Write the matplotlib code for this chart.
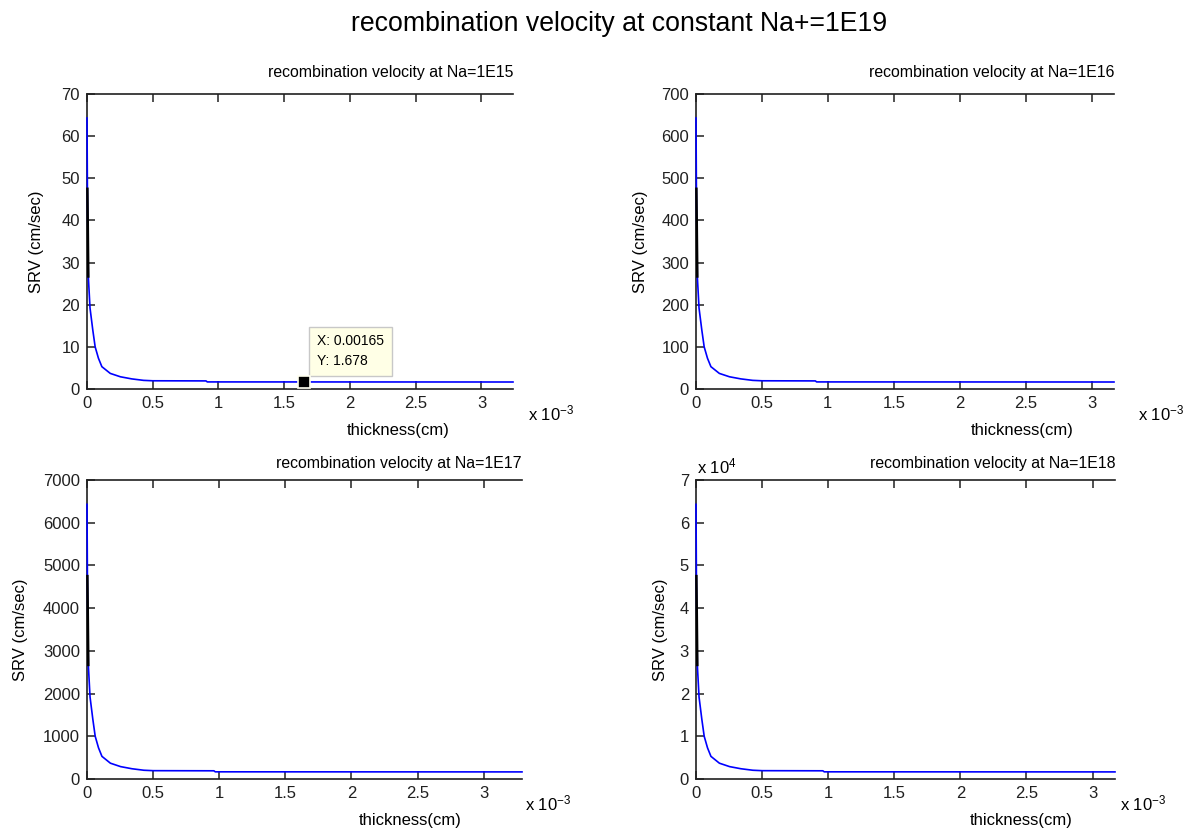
import matplotlib

matplotlib.use("Agg")
import matplotlib.pyplot as plt
from matplotlib.ticker import FuncFormatter, MultipleLocator

plt.rcParams["font.family"] = ["Liberation Sans", "DejaVu Sans"]
plt.rcParams["mathtext.fontset"] = "custom"
plt.rcParams["mathtext.rm"] = "Liberation Sans"
plt.rcParams["mathtext.it"] = "Liberation Sans"

W, H = 1193, 833
LINE_BLUE = "#0000ff"

# thickness (cm) and surface recombination velocity (cm/sec), one pair per Na
thickness_e15 = [0, 0.003e-3, 0.010e-3, 0.023e-3, 0.044e-3, 0.062e-3, 0.087e-3, 0.113e-3,
                 0.177e-3, 0.254e-3, 0.34e-3, 0.43e-3, 0.50e-3, 0.905e-3, 0.915e-3, 3.24e-3]
srv_e15 = [64.3, 47.5, 26.7, 19.2, 14.0, 10.0, 7.3, 5.3, 3.7, 2.9, 2.4, 2.05, 1.95, 1.92, 1.68, 1.66]

thickness_e16 = [0, 0.003e-3, 0.010e-3, 0.023e-3, 0.044e-3, 0.062e-3, 0.087e-3, 0.113e-3,
                 0.177e-3, 0.254e-3, 0.34e-3, 0.43e-3, 0.50e-3, 0.905e-3, 0.915e-3, 3.17e-3]
srv_e16 = [643, 475, 267, 192, 140, 100, 73, 53, 37, 29, 24, 20.5, 19.5, 19.2, 16.8, 16.6]

thickness_e17 = [0, 0.003e-3, 0.010e-3, 0.023e-3, 0.044e-3, 0.062e-3, 0.087e-3, 0.113e-3,
                 0.177e-3, 0.254e-3, 0.34e-3, 0.43e-3, 0.50e-3, 0.960e-3, 0.970e-3, 3.29e-3]
srv_e17 = [6430, 4750, 2670, 1920, 1400, 1000, 730, 530, 370, 290, 240, 205, 195, 192, 168, 166]

thickness_e18 = [0, 0.003e-3, 0.010e-3, 0.023e-3, 0.044e-3, 0.062e-3, 0.087e-3, 0.113e-3,
                 0.177e-3, 0.254e-3, 0.34e-3, 0.43e-3, 0.50e-3, 0.960e-3, 0.970e-3, 3.17e-3]
srv_e18 = [64300, 47500, 26700, 19200, 14000, 10000, 7300, 5300, 3700, 2900, 2400, 2050,
           1950, 1920, 1680, 1660]

doping_labels = ["1E15", "1E16", "1E17", "1E18"]
y_max = [70, 700, 7000, 70000]
y_step = [10, 100, 1000, 10000]

# data tip shown on the first panel
cursor_x = 0.00165
cursor_y = 1.678

# axes boxes in pixels: left, right, top, bottom
boxes = [(87, 513, 94, 389), (696, 1114, 94, 389),
         (87, 522, 480, 779), (696, 1115, 480, 779)]
ylabel_x = [37, 640, 21, 660]
xlabel_x = [398, 1022, 410, 1021]
offset_x = [528, 1138, 525, 1120]


def fpos(x, y):
    return x / W, 1 - y / H


fig = plt.figure(figsize=(W / 100, H / 100), dpi=100)
fig.text(*fpos(619, 24), "recombination velocity at constant Na+=1E19",
         ha="center", va="center", fontsize=19.2)

series = [(thickness_e15, srv_e15), (thickness_e16, srv_e16),
          (thickness_e17, srv_e17), (thickness_e18, srv_e18)]

for i, (xs, ys) in enumerate(series):
    left, right, top, bottom = boxes[i]
    ax = fig.add_axes([left / W, 1 - bottom / H, (right - left) / W, (bottom - top) / H])
    # x range runs exactly over the computed thickness span
    ax.plot(xs, ys, color=LINE_BLUE, lw=1.2, clip_on=False, zorder=3)
    # steep drop near the origin renders dark against the axis
    ax.plot(xs[1:3], ys[1:3], color="black", lw=1.8, clip_on=False, zorder=3)
    ax.set_xlim(0, xs[-1])
    ax.set_ylim(0, y_max[i])
    ax.xaxis.set_major_locator(MultipleLocator(0.5e-3))
    ax.xaxis.set_major_formatter(FuncFormatter(lambda v, _: f"{v * 1e3:g}"))
    ax.yaxis.set_major_locator(MultipleLocator(y_step[i]))
    if y_max[i] >= 70000:
        ax.yaxis.set_major_formatter(FuncFormatter(lambda v, _: f"{v / 1e4:g}"))
        fig.text(*fpos(697, 466), r"x 10$^{4}$", ha="left", va="center", fontsize=12)
    else:
        ax.yaxis.set_major_formatter(FuncFormatter(lambda v, _: f"{v:g}"))
    ax.spines["right"].set_visible(False)
    for s in ("left", "top", "bottom"):
        ax.spines[s].set_linewidth(1.2)
        ax.spines[s].set_color("#202020")
    ax.tick_params(direction="in", length=6, width=1.1, top=True, right=False,
                   labelsize=12, pad=5, colors="#202020")

    title_y = 72 if top < 200 else 463
    fig.text(*fpos(right, title_y), f"recombination velocity at Na={doping_labels[i]}",
             ha="right", va="center", fontsize=11.4)
    fig.text(*fpos(xlabel_x[i], bottom + 42), "thickness(cm)", ha="center", va="center",
             fontsize=12)
    fig.text(*fpos(ylabel_x[i], (top + bottom) / 2), "SRV (cm/sec)", ha="center",
             va="center", rotation=90, fontsize=12)
    fig.text(*fpos(offset_x[i], bottom + 24), r"x 10$^{-3}$", ha="left", va="center",
             fontsize=12)

    if i == 0:
        ax.plot([cursor_x], [cursor_y], marker="s", ms=9, color="black",
                mec="#fffff0", mew=1.2, clip_on=False, zorder=5)
        ax.annotate(f"X: {cursor_x:g}\nY: {cursor_y:g}", xy=(cursor_x, cursor_y),
                    xytext=(13, 14), textcoords="offset pixels", ha="left", va="bottom",
                    fontsize=10, linespacing=1.5,
                    bbox=dict(boxstyle="square,pad=0.55", fc="#ffffe6", ec="#c8c8c8", lw=1))

fig.savefig("out.png", dpi=100)
